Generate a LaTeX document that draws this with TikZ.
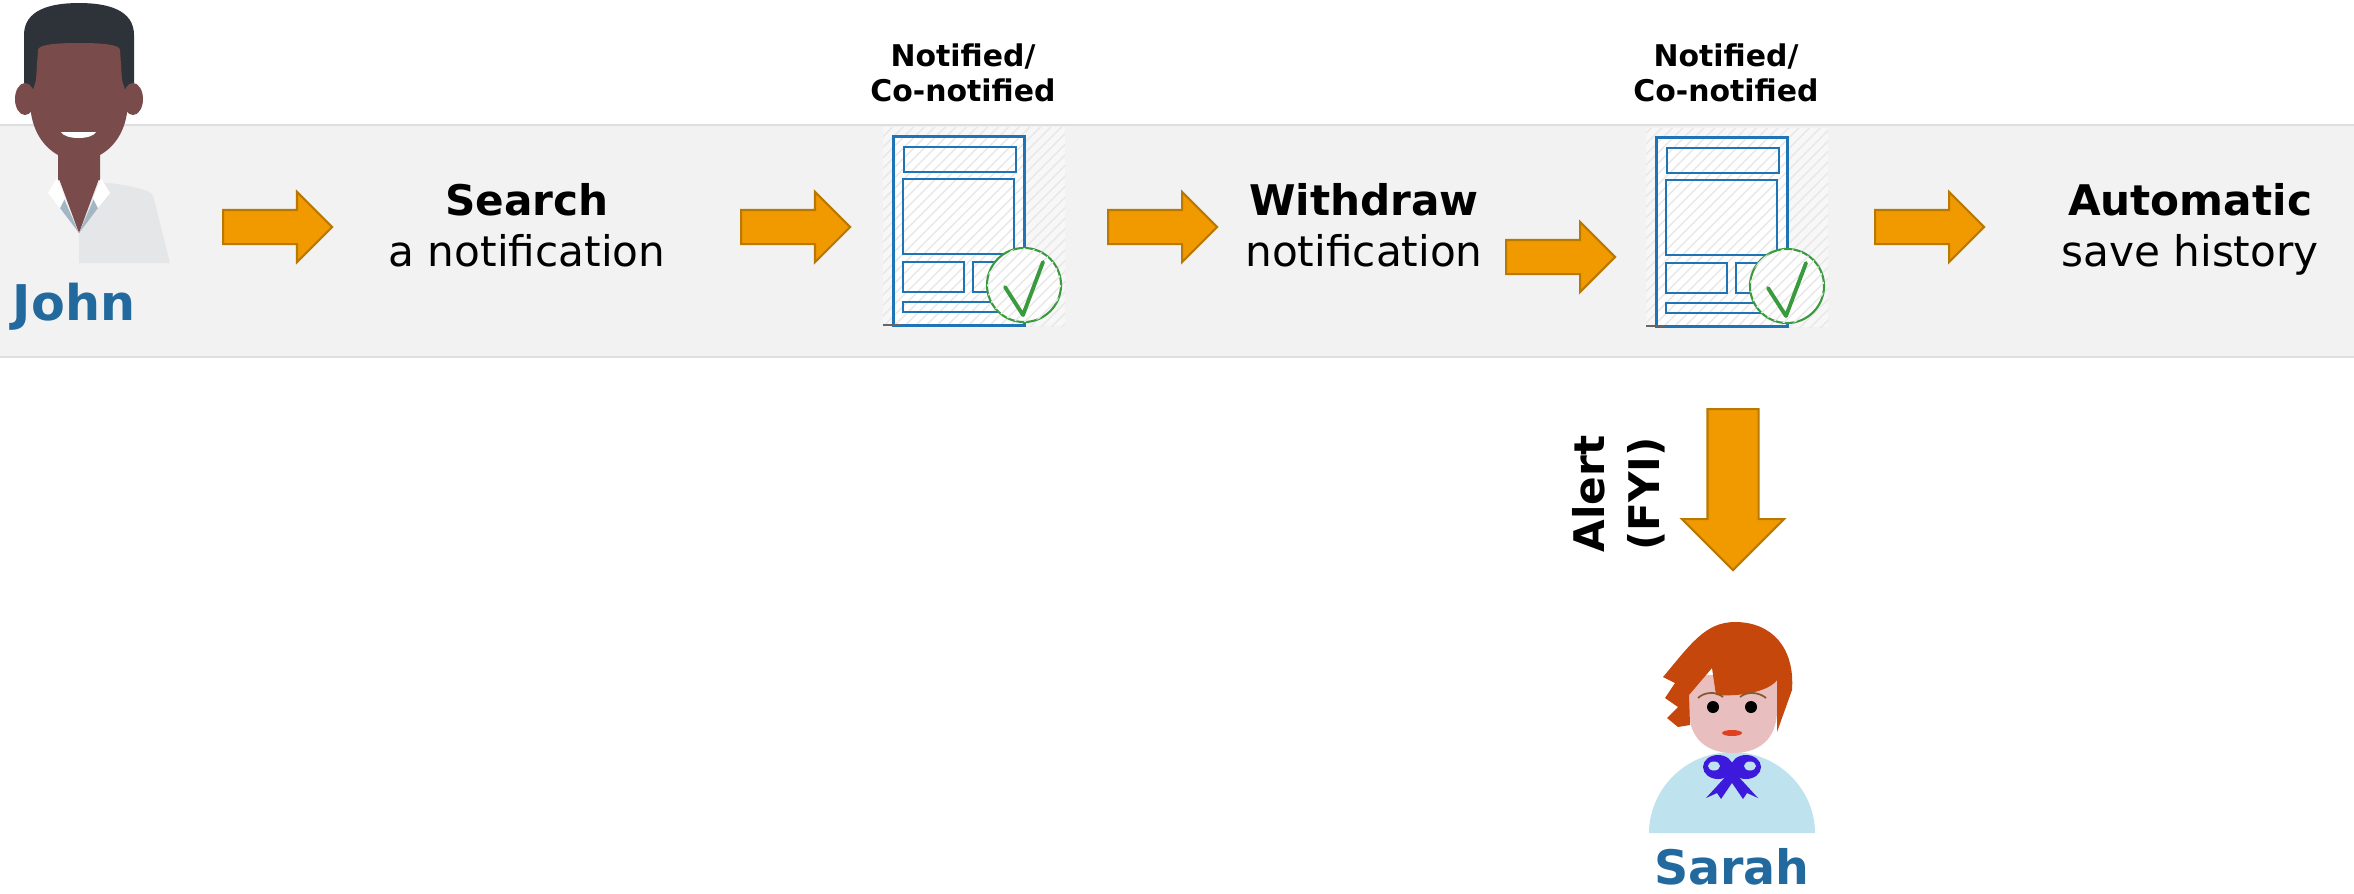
\documentclass[tikz,border=0pt]{standalone}
\usepackage{fontspec}
\setmainfont{DejaVu Sans}
\usetikzlibrary{shapes.arrows,patterns}

\definecolor{bandfill}{HTML}{F2F2F2}
\definecolor{bandline}{HTML}{DEDEDE}
\definecolor{arroworange}{HTML}{F09A00}
\definecolor{arrowline}{HTML}{B97800}
\definecolor{personblue}{HTML}{22699E}
\definecolor{docblue}{HTML}{1F74B5}
\definecolor{okgreen}{HTML}{3A9A3E}
\definecolor{skin}{HTML}{7A4B4B}
\definecolor{darkhair}{HTML}{2E3339}
\definecolor{shirt}{HTML}{E5E6E8}
\definecolor{lapel}{HTML}{A3B6C4}
\definecolor{redhair}{HTML}{C5470B}
\definecolor{paleskin}{HTML}{E8BEBE}
\definecolor{babyblue}{HTML}{BEE2EE}
\definecolor{bowblue}{HTML}{3D1ADB}

\tikzset{
  flowarrow/.style={single arrow, draw=arrowline, fill=arroworange, line width=0.6pt,
    inner xsep=0pt, inner ysep=0.16cm, single arrow head extend=0.18cm,
    single arrow tip angle=90, minimum height=1.09cm, anchor=tail},
  steptext/.style={anchor=north, align=center, inner sep=0pt, font=\fontsize{12}{14.5}\selectfont},
  doclabel/.style={align=center, inner sep=0pt, font=\fontsize{8.5}{9.8}\selectfont\bfseries},
  person/.style={anchor=base, inner sep=0pt, text=personblue, font=\fontsize{13.5}{16}\selectfont\bfseries},
  docicon/.pic={
    % hatched tile with the sheet on it
    \fill[black!3] (-10,-9) rectangle (172,190);
    \fill[white] (0,0) rectangle (131,189);
    \fill[pattern=north east lines, pattern color=black!9] (-10,-9) rectangle (172,190);
    \draw[docblue, line width=0.85pt] (0,0) rectangle (131,189);
    \draw[docblue, line width=0.7pt] (11,11) rectangle (123,36)
      (10,43) rectangle (121,118)
      (10,126) rectangle (71,156)
      (80,126) rectangle (125,156)
      (10,166) rectangle (120,176);
    \draw[black!60, line width=0.6pt] (-10,189) -- (9,189);
    % approval badge
    \filldraw[fill=white, draw=okgreen, line width=0.6pt] (131,149) circle (0.37cm);
    \fill[pattern=north east lines, pattern color=black!9] (131,149) circle (0.37cm);
    \draw[okgreen, line width=1.1pt, line cap=round, line join=round] (112,151) -- (130,179) -- (150,126);
  }
}

\begin{document}
\begin{tikzpicture}[x=0.01cm, y=-0.01cm]
  \useasboundingbox (0,0) rectangle (2354,893);

  % Process band
  \fill[bandfill] (0,125) rectangle (2354,357);
  \draw[bandline, line width=0.7pt] (0,125) -- (2354,125) (0,357) -- (2354,357);

  % John
  \fill[darkhair] (24,100) -- (24,35) .. controls (24,10) and (50,3) .. (79,3)
    .. controls (108,3) and (134,10) .. (134,35) -- (134,100) -- cycle;
  \fill[skin] (25,99) ellipse (0.1cm and 0.16cm) (133,99) ellipse (0.1cm and 0.16cm);
  \fill[skin] (38,50) .. controls (38,44) and (60,43) .. (79,43) .. controls (98,43) and (120,44) .. (120,50)
    -- (122,80) -- (128,100) .. controls (128,125) and (118,145) .. (100,155) -- (100,180) -- (58,180) -- (58,155)
    .. controls (40,145) and (30,125) .. (30,100) -- (36,80) -- cycle;
  \fill[white] (61,132) -- (96,132) .. controls (92,140) and (65,140) .. (61,132);
  \fill[shirt] (79,180) -- (100,182) .. controls (130,185) and (150,190) .. (153,195) -- (170,263) -- (79,263) -- cycle;
  \fill[skin] (58,176) -- (100,176) -- (79,233) -- cycle;
  \fill[lapel] (58,185) -- (79,233) -- (60,208) -- cycle;
  \fill[lapel] (100,185) -- (79,233) -- (98,208) -- cycle;
  \fill[white] (48,193) -- (57,178) -- (65,198) -- (60,208) -- cycle;
  \fill[white] (110,193) -- (101,178) -- (93,198) -- (98,208) -- cycle;
  \node[person, font=\fontsize{14}{16}\selectfont\bfseries] (john) at (74,320) {John};

  % Steps
  \node[flowarrow] (ar1) at (222,227) {};
  \node[steptext] (search) at (527,183) {\textbf{Search}\\a notification};
  \node[flowarrow] (ar2) at (740,227) {};
  \pic at (893,136) {docicon};
  \node[doclabel] (labela) at (963,73) {Notified/\\Co-notified};
  \node[flowarrow] (ar3) at (1107,227) {};
  \node[steptext] (withdraw) at (1364,183) {\textbf{Withdraw}\\notification};
  \node[flowarrow] (ar4) at (1505,257) {};
  \pic at (1656,137) {docicon};
  \node[doclabel] (labelb) at (1726,73) {Notified/\\Co-notified};
  \node[flowarrow] (ar5) at (1874,227) {};
  \node[steptext] (autosave) at (2190,183) {\textbf{Automatic}\\save history};

  % Alert down to Sarah
  \node[flowarrow, rotate=-90, inner ysep=0.245cm, single arrow head extend=0.255cm,
    minimum height=1.61cm] (down) at (1733,408) {};
  \node[rotate=90, align=center, inner sep=0pt, font=\fontsize{12}{15.6}\selectfont\bfseries]
    (alert) at (1619,494) {Alert\\(FYI)};

  % Sarah
  \fill[babyblue] (1649,833) .. controls (1649,790) and (1685,752) .. (1732,752)
    .. controls (1779,752) and (1815,790) .. (1815,833) -- cycle;
  \fill[paleskin] (1689,675) -- (1689,710) .. controls (1689,740) and (1708,753) .. (1733,753)
    .. controls (1758,753) and (1777,740) .. (1777,710) -- (1777,675) -- cycle;
  \fill[redhair] (1663,677) .. controls (1690,645) and (1705,622) .. (1735,622)
    .. controls (1772,622) and (1795,648) .. (1792,690) -- (1777,732) -- (1777,680)
    .. controls (1770,690) and (1745,697) .. (1716,695) -- (1712,668) -- (1689,695)
    -- (1690,725) -- (1678,727) -- (1667,718) -- (1678,707) -- (1665,698) -- (1675,683) -- cycle;
  \draw[brown!70!black, line width=0.5pt] (1698,698) .. controls (1704,692) and (1716,691) .. (1723,697);
  \draw[brown!70!black, line width=0.5pt] (1740,697) .. controls (1747,691) and (1759,692) .. (1766,698);
  \fill[black] (1713,707) circle (0.06cm) (1751,707) circle (0.06cm);
  \fill[red!50!brown] (1732,733) ellipse (0.1cm and 0.03cm);
  % bow
  \fill[bowblue] (1718,767) ellipse (0.15cm and 0.12cm) (1746,767) ellipse (0.15cm and 0.12cm);
  \fill[babyblue] (1714,766) ellipse (0.06cm and 0.045cm) (1750,766) ellipse (0.06cm and 0.045cm);
  \fill[bowblue] (1732,772) circle (0.07cm);
  \fill[bowblue] (1728,774) -- (1706,798) -- (1717,793) -- (1721,799) -- (1736,777) -- cycle;
  \fill[bowblue] (1736,774) -- (1758,798) -- (1747,793) -- (1743,799) -- (1728,777) -- cycle;
  \node[person] (sarah) at (1732,884) {Sarah};
\end{tikzpicture}
\end{document}
